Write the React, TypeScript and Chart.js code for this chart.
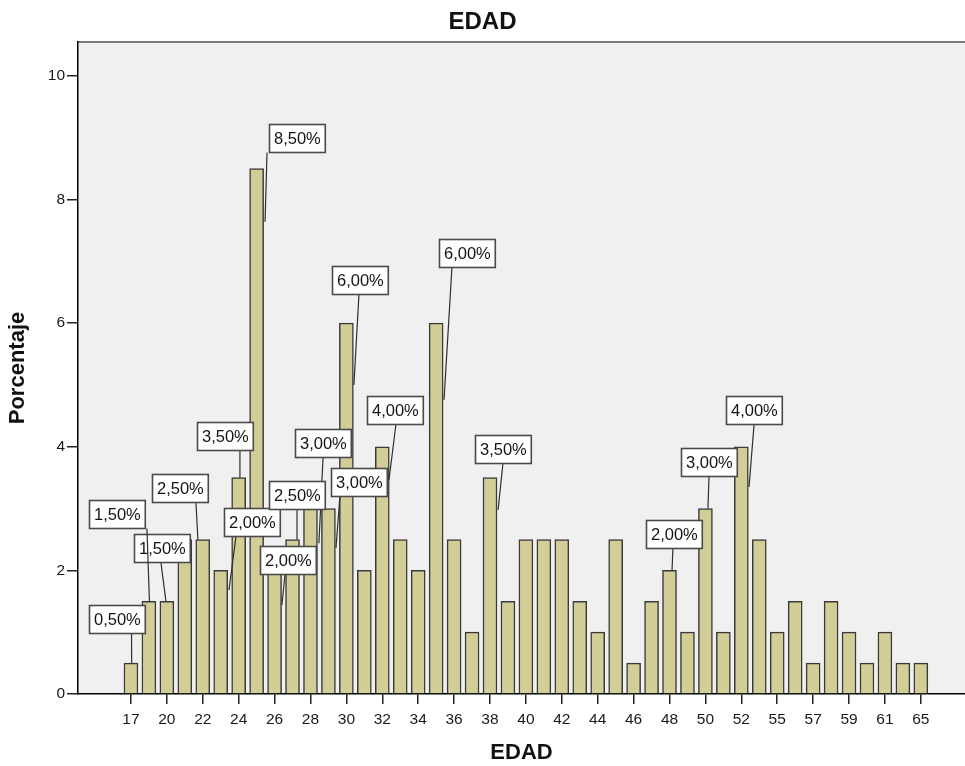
import { useEffect, useRef } from 'react';
import { Chart, registerables } from 'chart.js';

Chart.register(...registerables);

const FONT = '"Liberation Sans", Arial, sans-serif';

// Age categories (x axis) and percentage per category
const ages = [17, 19, 20, 21, 22, 23, 24, 25, 26, 27, 28, 29, 30, 31, 32, 33, 34, 35, 36, 37, 38, 39, 40, 41, 42, 43, 44, 45, 46, 47, 48, 49, 50, 51, 52, 54, 55, 56, 57, 58, 59, 60, 61, 63, 65];
const percentages = [0.5, 1.5, 1.5, 2.5, 2.5, 2.0, 3.5, 8.5, 2.0, 2.5, 3.0, 3.0, 6.0, 2.0, 4.0, 2.5, 2.0, 6.0, 2.5, 1.0, 3.5, 1.5, 2.5, 2.5, 2.5, 1.5, 1.0, 2.5, 0.5, 1.5, 2.0, 1.0, 3.0, 1.0, 4.0, 2.5, 1.0, 1.5, 0.5, 1.5, 1.0, 0.5, 1.0, 0.5, 0.5];

// Y axis range / step
const yMin = 0;
const yMax = 10.55;
const yStep = 2;

// Callouts: bar index, then [box dx (category units), box y (value), anchor dx, anchor y, line start dx]
const calloutBars = [0, 2, 1, 4, 6, 5, 7, 8, 10, 9, 11, 12, 14, 17, 20, 30, 32, 34];
const calloutLayout: number[][] = [
  [-0.81, 1.21, 0.04, 0.5, 0.03],
  [-0.30, 2.37, -0.05, 1.5, -0.33],
  [-1.78, 2.905, 0.03, 1.49, -0.11],
  [-1.27, 3.33, -0.27, 2.5, -0.38],
  [-0.76, 4.17, 0.07, 3.5, 0.07],
  [1.71, 2.79, 0.46, 1.68, 0.85],
  [2.22, 9.0, 0.47, 7.64, 0.58],
  [0.72, 2.17, 0.41, 1.44, 0.58],
  [0.67, 4.06, 0.47, 2.44, 0.7],
  [0.25, 3.22, 0.25, 2.5, 0.25],
  [1.67, 3.43, 0.42, 2.36, 0.64],
  [0.73, 6.7, 0.42, 5.0, 0.7],
  [0.71, 4.6, 0.37, 3.46, 0.76],
  [1.69, 7.13, 0.44, 4.76, 0.88],
  [0.7, 3.96, 0.45, 2.98, 0.72],
  [0.22, 2.59, 0.14, 2.0, 0.19],
  [0.17, 3.75, 0.14, 3.0, 0.2],
  [0.68, 4.6, 0.43, 3.35, 0.71],
];

const fmt = (v: number) => v.toFixed(2).replace('.', ',') + '%';

const plotBg = {
  id: 'plotBg',
  beforeDraw(chart: any) {
    const { ctx, chartArea } = chart;
    const { left, top, right, bottom } = chartArea;
    ctx.save();
    ctx.fillStyle = '#f0f0f0';
    ctx.fillRect(left, top, right - left, bottom - top);
    ctx.strokeStyle = '#7a7a7a';
    ctx.lineWidth = 2;
    ctx.beginPath();
    ctx.moveTo(left, top);
    ctx.lineTo(right, top);
    ctx.stroke();
    ctx.restore();
  },
};

const callouts = {
  id: 'callouts',
  afterDatasetsDraw(chart: any) {
    const { ctx, scales } = chart;
    const xs = scales.x;
    const ys = scales.y;
    ctx.save();
    ctx.font = `16.5px ${FONT}`;
    calloutBars.forEach((bi, k) => {
      const [bdx, by, adx, ay, sdx] = calloutLayout[k];
      const text = fmt(percentages[bi]);
      const tw = ctx.measureText(text).width;
      const w = tw + 9;
      const h = 28;
      const cx = xs.getPixelForValue(bi + bdx);
      const cy = ys.getPixelForValue(by);
      const bx = Math.round(cx - w / 2) + 0.5;
      const byTop = Math.round(cy - h / 2) + 0.5;
      const ax = xs.getPixelForValue(bi + adx);
      const ayPx = ys.getPixelForValue(ay);
      const sx = xs.getPixelForValue(bi + sdx);
      ctx.strokeStyle = '#2e2e2e';
      ctx.lineWidth = 1.2;
      ctx.beginPath();
      ctx.moveTo(sx, byTop + h);
      ctx.lineTo(ax, ayPx);
      ctx.stroke();
      ctx.fillStyle = '#ffffff';
      ctx.fillRect(bx, byTop, w, h);
      ctx.strokeStyle = '#4a4a4a';
      ctx.lineWidth = 1.6;
      ctx.strokeRect(bx, byTop, w, h);
      ctx.fillStyle = '#141414';
      ctx.textAlign = 'center';
      ctx.textBaseline = 'middle';
      ctx.fillText(text, bx + w / 2, byTop + h / 2 + 1);
    });
    ctx.restore();
  },
};

export default function App() {
  const ref = useRef<HTMLCanvasElement | null>(null);

  useEffect(() => {
    if (!ref.current) return;
    Chart.defaults.font.family = FONT;
    const chart = new Chart(ref.current, {
      type: 'bar',
      data: {
        datasets: [
          {
            label: 'Porcentaje',
            data: percentages.map((v, i) => ({ x: i, y: v })),
            backgroundColor: '#d3ce97',
            borderColor: '#3a3a3a',
            borderWidth: 1.5,
            barThickness: 14,
          },
        ],
      },
      options: {
        responsive: false,
        animation: false,
        layout: { padding: 0 },
        plugins: {
          legend: { display: false },
          tooltip: { enabled: false },
          title: {
            display: true,
            text: 'EDAD',
            color: '#111',
            font: { size: 24, weight: 'bold', family: FONT },
            padding: { top: 7.6, bottom: 5.6 },
          },
        },
        scales: {
          x: {
            type: 'linear',
            offset: false,
            min: -2.95,
            max: 46.46,
            afterBuildTicks: (s: any) => {
              s.ticks = ages.map((_, i) => ({ value: i })).filter((t) => t.value % 2 === 0);
            },
            ticks: {
              autoSkip: false,
              maxRotation: 0,
              minRotation: 0,
              padding: 6,
              color: '#1a1a1a',
              font: { size: 15.5, family: FONT },
              callback: (v: any) => String(ages[Math.round(Number(v))] ?? ''),
            },
            grid: {
              offset: false,
              drawOnChartArea: false,
              drawTicks: true,
              tickLength: 10,
              lineWidth: 1.5,
              color: '#222',
            },
            border: { display: true, color: '#000', width: 1.5 },
            title: {
              display: true,
              text: 'EDAD',
              color: '#111',
              font: { size: 22, weight: 'bold', family: FONT },
              padding: { top: 0, bottom: 0 },
            },
            afterFit: (s: any) => {
              s.height = 72;
            },
          },
          y: {
            min: yMin,
            max: yMax,
            ticks: {
              stepSize: yStep,
              includeBounds: false,
              padding: 2,
              color: '#1a1a1a',
              font: { size: 15.5, family: FONT },
            },
            grid: {
              drawOnChartArea: false,
              drawTicks: true,
              tickLength: 11,
              lineWidth: 1.5,
              color: '#222',
            },
            border: { display: true, color: '#000', width: 1.5 },
            title: {
              display: true,
              text: 'Porcentaje',
              color: '#111',
              font: { size: 22, weight: 'bold', family: FONT },
              padding: { top: 5, bottom: 0 },
            },
            afterFit: (s: any) => {
              s.width = 78;
            },
          },
        },
      } as any,
      plugins: [plotBg, callouts],
    });
    return () => chart.destroy();
  }, []);

  return (
    <div style={{ position: 'fixed', left: 0, top: 0, width: 965, height: 766, background: '#fff' }}>
      <canvas ref={ref} width={965} height={766} style={{ display: 'block', width: 965, height: 766 }} />
    </div>
  );
}
